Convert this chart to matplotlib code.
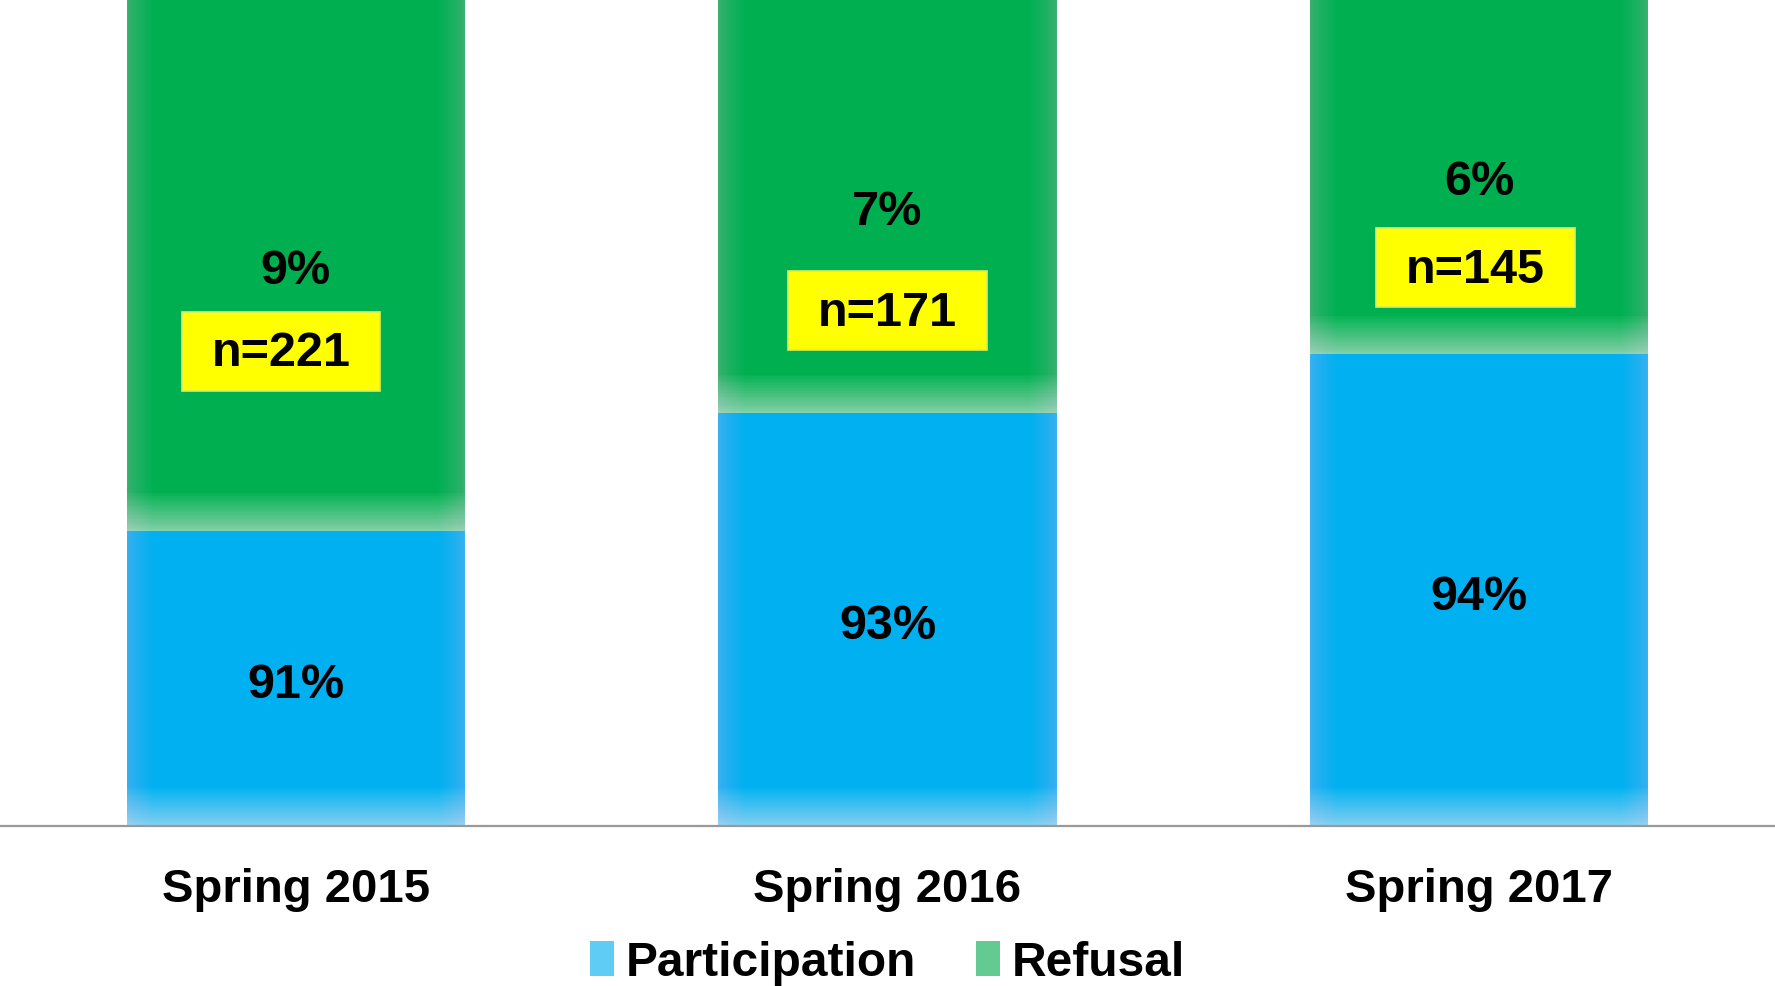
import matplotlib
matplotlib.use("Agg")
import matplotlib.pyplot as plt
from matplotlib.patches import Rectangle, Patch

categories = ["Spring 2015", "Spring 2016", "Spring 2017"]
participation = [91, 93, 94]
refusal = [9, 7, 6]
n_labels = ["n=221", "n=171", "n=145"]

# layout constants
y_min, y_max = 86, 100
n_box_y = [94.05, 94.73, 95.47]
n_box_dx = [-0.025, 0.0, -0.006]
BLUE = "#00B0F0"
GREEN = "#00B050"

plt.rcParams['font.family'] = ['Liberation Sans', 'DejaVu Sans']
fig = plt.figure(figsize=(17.75, 9.86), dpi=100)
ax = fig.add_axes([0, 1 - 826 / 986, 1, 826 / 986])
ax.set_xlim(-0.5, 2.5)
ax.set_ylim(y_min, y_max)

x = list(range(len(categories)))
heights_p = [p - y_min for p in participation]
b1 = ax.bar(x, heights_p, bottom=y_min, width=0.572, color=BLUE, linewidth=0)
b2 = ax.bar(x, refusal, bottom=participation, width=0.572, color=GREEN, linewidth=0)


def soft_edges(patch, n=30, side_w=0.045, bot_h=0.65, a_side=0.013, a_bot=0.028):
    x0, y0 = patch.get_xy()
    w, h = patch.get_width(), patch.get_height()
    z = patch.get_zorder() + 0.1
    for k in range(n):
        f = ((k + 1) / n) ** 1.4
        sw = side_w * f
        bh = bot_h * f
        rects = [Rectangle((x0, y0), sw, h, alpha=a_side),
                 Rectangle((x0 + w - sw, y0), sw, h, alpha=a_side),
                 Rectangle((x0, y0), w, bh, alpha=a_bot)]
        for r in rects:
            r.set_facecolor("white")
            r.set_edgecolor("none")
            r.set_zorder(z)
            ax.add_patch(r)
            r.set_clip_path(patch)


for p in list(b1) + list(b2):
    soft_edges(p)

for i in x:
    ax.text(i, (y_min + participation[i]) / 2 - 0.12, f"{participation[i]}%",
            ha="center", va="center", fontsize=35, fontweight="bold", zorder=5)
    ax.text(i, (participation[i] + 100) / 2 - 0.1, f"{refusal[i]}%",
            ha="center", va="center", fontsize=35, fontweight="bold", zorder=5)
    bw, bh = 0.336, 1.34
    cx = i + n_box_dx[i]
    ax.add_patch(Rectangle((cx - bw / 2, n_box_y[i] - bh / 2), bw, bh,
                           facecolor="#FFFF00", edgecolor="#D8EE60",
                           linewidth=1.2, zorder=6))
    ax.text(cx, n_box_y[i] - 0.05, n_labels[i], ha="center", va="center",
            fontsize=35, fontweight="bold", zorder=7)

for s in ["top", "left", "right"]:
    ax.spines[s].set_visible(False)
ax.spines["bottom"].set_color("#999999")
ax.spines["bottom"].set_linewidth(1.6)
ax.set_yticks([])
ax.set_xticks(x)
ax.set_xticklabels(categories, fontsize=34, fontweight="bold")
ax.tick_params(axis="x", length=0, pad=30)

handles = [Patch(facecolor="#5ECCF4", edgecolor="none", label="Participation"),
           Patch(facecolor="#63CB92", edgecolor="none", label="Refusal")]
fig.legend(handles=handles, loc="center", bbox_to_anchor=(0.5, 1 - 963 / 986),
           ncol=2, frameon=False, prop={"size": 34.5, "weight": "bold"},
           handlelength=0.5, handleheight=0.75, handletextpad=0.25,
           columnspacing=1.25, borderpad=0)

fig.savefig("out.png", dpi=100)
